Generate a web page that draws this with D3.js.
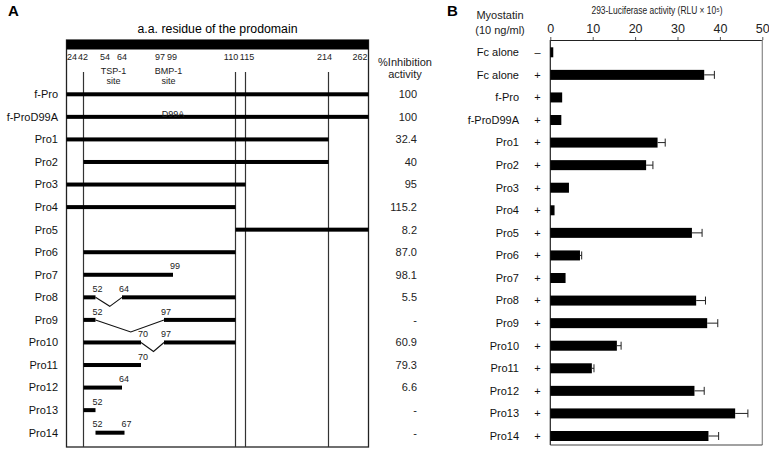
<!DOCTYPE html>
<html>
<head>
<meta charset="utf-8">
<script src="https://cdn.jsdelivr.net/npm/d3@7"></script>
<style>
  body { margin: 0; background: #fff; }
  svg { font-family: "Liberation Sans", Arial, sans-serif; }
</style>
</head>
<body>
<div id="chart"></div>
<script>
const width = 769;
const height = 451;

// Panel A data
const rowsA = ["f-Pro", "f-ProD99A", "Pro1", "Pro2", "Pro3", "Pro4", "Pro5", "Pro6",
  "Pro7", "Pro8", "Pro9", "Pro10", "Pro11", "Pro12", "Pro13", "Pro14"];
const segments = [
  [[24, 262]], [[24, 262]], [[24, 214]], [[42, 214]], [[24, 115]], [[24, 110]],
  [[110, 262]], [[42, 110]], [[42, 99]], [[42, 52], [64, 110]], [[42, 52], [97, 110]],
  [[42, 70], [97, 110]], [[42, 70]], [[42, 64]], [[42, 52]], [[52, 67]]
];
const endLabels = [[], [], [], [], [], [], [], [], [99], [52, 64], [52, 97], [70, 97],
  [70], [64], [52], [52, 67]];
const inhibition = ["100", "100", "32.4", "40", "95", "115.2", "8.2", "87.0", "98.1",
  "5.5", "-", "60.9", "79.3", "6.6", "-", "-"];
const residueTicks = [24, 42, 54, 64, 97, 99, 110, 115, 214, 262];
const guideResidues = [42, 110, 115, 214];

// Panel B data
const rowsB = ["Fc alone", "Fc alone", "f-Pro", "f-ProD99A", "Pro1", "Pro2", "Pro3", "Pro4",
  "Pro5", "Pro6", "Pro7", "Pro8", "Pro9", "Pro10", "Pro11", "Pro12", "Pro13", "Pro14"];
const myostatin = ["\u2013", "+", "+", "+", "+", "+", "+", "+", "+", "+", "+", "+", "+",
  "+", "+", "+", "+", "+"];
const lucMean = [0.7, 36.3, 2.8, 2.6, 25.3, 22.6, 4.4, 1.0, 33.4, 7.0, 3.6, 34.4, 37.0,
  15.7, 9.8, 34.0, 43.6, 37.3];
const lucErr = [0, 2.4, 0, 0, 1.8, 1.6, 0, 0, 2.4, 0.4, 0, 2.2, 2.5, 1.0, 0.5, 2.3, 3.0, 2.4];
const lucTicks = [0, 10, 20, 30, 40, 50];

const svg = d3.select("#chart").append("svg")
  .attr("width", width)
  .attr("height", height);

// ---------- Panel A ----------
// schematic (non-proportional) residue scale
const xA = d3.scaleLinear()
  .domain([24, 42, 52, 54, 64, 67, 70, 97, 99, 110, 115, 214, 262])
  .range([66.5, 83.5, 95.5, 105, 122, 124.5, 141, 164, 173, 235.5, 245.5, 328.5, 368.5]);
const yA = d3.scalePoint().domain(d3.range(rowsA.length)).range([94.3, 432.7]);
const boxTop = 40, boxBottom = 447;

const gA = svg.append("g");

gA.append("text").attr("x", 8).attr("y", 16)
  .attr("font-size", 15).attr("font-weight", "bold").text("A");

gA.append("text").attr("x", (xA(24) + xA(262)) / 2).attr("y", 33)
  .attr("text-anchor", "middle").attr("font-size", 12.3)
  .text("a.a. residue of the prodomain");

gA.append("rect")
  .attr("x", xA(24)).attr("y", boxTop)
  .attr("width", xA(262) - xA(24)).attr("height", boxBottom - boxTop)
  .attr("fill", "none").attr("stroke", "#222").attr("stroke-width", 1.3);

gA.append("rect")
  .attr("x", xA(24)).attr("y", boxTop)
  .attr("width", xA(262) - xA(24)).attr("height", 9.5)
  .attr("fill", "#000");

gA.selectAll("line.guide").data(guideResidues).enter().append("line")
  .attr("class", "guide")
  .attr("x1", d => xA(d)).attr("x2", d => xA(d))
  .attr("y1", 72).attr("y2", boxBottom)
  .attr("stroke", "#333").attr("stroke-width", 1.2);

const tickNudge = { 24: 0.5, 42: -0.5, 54: 0, 64: 0, 97: -4, 99: -1, 110: -4.5, 115: 1.5, 214: -4, 262: -1 };
gA.selectAll("text.res").data(residueTicks).enter().append("text")
  .attr("class", "res")
  .attr("x", d => xA(d) + tickNudge[d])
  .attr("y", 60)
  .attr("text-anchor", d => d === 24 ? "start" : d === 262 ? "end" : "middle")
  .attr("font-size", 9).attr("fill", "#222")
  .text(d => d);

[["TSP-1", "site", (xA(54) + xA(64)) / 2], ["BMP-1", "site", (xA(97) + xA(99)) / 2]]
  .forEach(([a, b, x]) => {
    gA.append("text").attr("x", x).attr("y", 74).attr("text-anchor", "middle")
      .attr("font-size", 9).attr("fill", "#222").text(a);
    gA.append("text").attr("x", x).attr("y", 84).attr("text-anchor", "middle")
      .attr("font-size", 9).attr("fill", "#222").text(b);
  });

gA.append("text").attr("x", 405).attr("y", 66).attr("text-anchor", "middle")
  .attr("font-size", 11).attr("fill", "#222").text("%Inhibition");
gA.append("text").attr("x", 405).attr("y", 78).attr("text-anchor", "middle")
  .attr("font-size", 11).attr("fill", "#222").text("activity");

const rowA = gA.selectAll("g.rowA").data(rowsA).enter().append("g")
  .attr("class", "rowA")
  .attr("transform", (d, i) => `translate(0,${yA(i)})`);

rowA.append("text").attr("x", 58).attr("dy", "0.35em")
  .attr("text-anchor", "end").attr("font-size", 11).attr("fill", "#111")
  .text(d => d);

rowA.append("text").attr("x", 417).attr("dy", "0.35em")
  .attr("text-anchor", "end").attr("font-size", 11).attr("fill", "#222")
  .text((d, i) => inhibition[i]);

rowA.each(function(d, i) {
  const g = d3.select(this);
  const segs = segments[i];
  segs.forEach(s => {
    g.append("rect")
      .attr("x", xA(s[0])).attr("y", -2)
      .attr("width", xA(s[1]) - xA(s[0])).attr("height", 4)
      .attr("fill", "#000");
  });
  // deleted region drawn as a V
  for (let k = 1; k < segs.length; k++) {
    const a = segs[k - 1][1], b = segs[k][0];
    const depth = (xA(b) - xA(a)) > 40 ? 12 : 9;
    g.append("path")
      .attr("d", `M${xA(a)},0L${(xA(a) + xA(b)) / 2 + 1},${depth}L${xA(b)},0`)
      .attr("fill", "none").attr("stroke", "#111").attr("stroke-width", 1.1);
  }
  g.selectAll("text.end").data(endLabels[i]).enter().append("text")
    .attr("class", "end")
    .attr("x", r => xA(r) + 2).attr("y", -8.5).attr("dy", "0.35em")
    .attr("text-anchor", "middle").attr("font-size", 9).attr("fill", "#222")
    .text(r => r);
});

gA.append("text").attr("x", xA(99)).attr("y", yA(1) - 3.2).attr("dy", "0.35em")
  .attr("text-anchor", "middle").attr("font-size", 9).attr("fill", "#222")
  .text("D99A");

// ---------- Panel B ----------
const xB = d3.scaleLinear().domain([0, 50]).range([550.3, 762.3]);
const yB = d3.scalePoint().domain(d3.range(rowsB.length)).range([52.3, 436]);
const topB = 40, bottomB = 445;

const gB = svg.append("g");

gB.append("text").attr("x", 447).attr("y", 16)
  .attr("font-size", 15).attr("font-weight", "bold").text("B");

gB.append("text").attr("x", 500).attr("y", 19).attr("text-anchor", "middle")
  .attr("font-size", 11).attr("fill", "#222").text("Myostatin");
gB.append("text").attr("x", 500).attr("y", 34).attr("text-anchor", "middle")
  .attr("font-size", 11).attr("fill", "#222").text("(10 ng/ml)");

gB.append("text").attr("x", 657).attr("y", 13.5).attr("text-anchor", "middle")
  .attr("font-size", 10).attr("fill", "#222")
  .attr("textLength", 131).attr("lengthAdjust", "spacingAndGlyphs")
  .text("293-Luciferase activity (RLU \u00d7 10\u2075)");

const axis = gB.append("g")
  .attr("transform", `translate(0,${topB})`)
  .call(d3.axisTop(xB).tickValues(lucTicks).tickSize(3).tickSizeOuter(0).tickPadding(4));
axis.selectAll("text").attr("font-size", 12.5).attr("fill", "#222")
  .attr("font-family", "Liberation Sans, Arial, sans-serif");
axis.select(".domain").attr("stroke", "#222");
axis.selectAll(".tick line").attr("stroke", "#555");

gB.append("line").attr("x1", xB(0)).attr("x2", xB(0)).attr("y1", topB).attr("y2", bottomB)
  .attr("stroke", "#222").attr("stroke-width", 1.2);
gB.append("line").attr("x1", xB(50)).attr("x2", xB(50)).attr("y1", topB).attr("y2", bottomB)
  .attr("stroke", "#888").attr("stroke-width", 1.2);
gB.append("line").attr("x1", xB(0)).attr("x2", xB(50)).attr("y1", bottomB).attr("y2", bottomB)
  .attr("stroke", "#444").attr("stroke-width", 1.2);

const rowB = gB.selectAll("g.rowB").data(rowsB).enter().append("g")
  .attr("class", "rowB")
  .attr("transform", (d, i) => `translate(0,${yB(i)})`);

rowB.append("text").attr("x", 519).attr("dy", "0.35em")
  .attr("text-anchor", "end").attr("font-size", 11).attr("fill", "#111")
  .text(d => d);

rowB.append("text").attr("x", 537.5).attr("dy", "0.35em")
  .attr("text-anchor", "middle").attr("font-size", 11).attr("fill", "#111")
  .text((d, i) => myostatin[i]);

rowB.append("rect")
  .attr("x", xB(0)).attr("y", -5)
  .attr("width", (d, i) => xB(lucMean[i]) - xB(0)).attr("height", 10)
  .attr("fill", "#000");

// error bars (only where visible)
rowB.each(function(d, i) {
  if (lucErr[i] <= 0) return;
  const g = d3.select(this);
  const x1 = xB(lucMean[i]), x2 = xB(lucMean[i] + lucErr[i]);
  g.append("line").attr("x1", x1).attr("x2", x2).attr("y1", 0).attr("y2", 0)
    .attr("stroke", "#222").attr("stroke-width", 1);
  g.append("line").attr("x1", x2).attr("x2", x2).attr("y1", -4).attr("y2", 4)
    .attr("stroke", "#222").attr("stroke-width", 1);
});
</script>
</body>
</html>
